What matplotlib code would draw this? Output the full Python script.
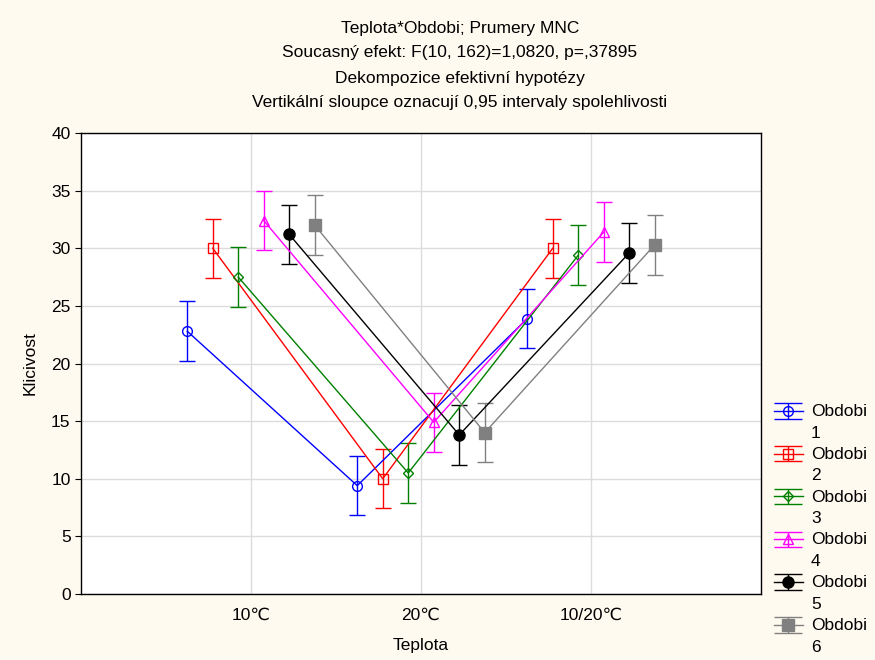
import matplotlib
matplotlib.use("Agg")
import matplotlib.pyplot as plt
import numpy as np
from matplotlib.legend_handler import HandlerErrorbar
from matplotlib.transforms import Affine2D
from matplotlib.lines import Line2D

plt.rcParams['font.family'] = ['Liberation Sans', 'DejaVu Sans']

categories = ["10\u2103", "20\u2103", "10/20\u2103"]
series_names = ["Obdobi\n1", "Obdobi\n2", "Obdobi\n3", "Obdobi\n4", "Obdobi\n5", "Obdobi\n6"]
obdobi1 = [22.8, 9.4, 23.9]
obdobi2 = [30.0, 10.0, 30.0]
obdobi3 = [27.5, 10.5, 29.4]
obdobi4 = [32.4, 14.9, 31.4]
obdobi5 = [31.2, 13.8, 29.6]
obdobi6 = [32.0, 14.0, 30.3]
ci_half = [2.58, 2.58, 2.58, 2.58, 2.58, 2.58]

values = [obdobi1, obdobi2, obdobi3, obdobi4, obdobi5, obdobi6]
colors = ["#0000ff", "#ff0000", "#008000", "#ff00ff", "#000000", "#808080"]
markers = ["o", "s", "D", "^", "o", "s"]
mfaces = ["none", "none", "none", "none", "#000000", "#808080"]
msizes = [7, 7, 5.5, 7, 8, 8]
offsets = [-0.375, -0.225, -0.075, 0.075, 0.225, 0.375]


class ShiftedErrorbar(HandlerErrorbar):
    def __init__(self, shift, **kw):
        super().__init__(**kw)
        self.shift = shift

    def create_artists(self, legend, orig_handle, xdescent, ydescent,
                       width, height, fontsize, trans):
        t = Affine2D().translate(0, self.shift) + trans
        arts = super().create_artists(legend, orig_handle, xdescent, ydescent,
                                      width, height, fontsize, t)
        for a in arts:
            if isinstance(a, Line2D) and a.get_marker() == "_":
                a.set_markersize(width)
        return arts


fig = plt.figure(figsize=(8.75, 6.6), dpi=100, facecolor="#fffaf0")
ax = fig.add_axes([81/875, 1-594/660, 680/875, 461/660])
ax.set_facecolor("white")

xpos = np.arange(1, len(categories) + 1)
for i, vals in enumerate(values):
    ax.errorbar(xpos + offsets[i], vals, yerr=ci_half[i], color=colors[i],
                marker=markers[i], markerfacecolor=mfaces[i], markeredgecolor=colors[i],
                markersize=msizes[i], linewidth=1.0, elinewidth=1.0, capsize=6,
                capthick=1.0, label=series_names[i], zorder=3)

ax.set_xlim(0, 4)
ax.set_ylim(0, 40)
ax.set_yticks(np.arange(0, 41, 5))
ax.set_xticks(xpos)
ax.set_xticklabels(categories)
ax.grid(True, color="#dcdcdc", linewidth=1.0, zorder=0)
ax.set_axisbelow(True)
ax.tick_params(axis="both", labelsize=12.5, direction="out", length=4, color="black")
ax.tick_params(axis="x", length=0, pad=10)
for s in ax.spines.values():
    s.set_color("black")
    s.set_linewidth(1.0)
ax.set_xlabel("Teplota", fontsize=12.5, labelpad=11)
ax.set_ylabel("Klicivost", fontsize=12.5, labelpad=10)

title_lines = ["Teplota*Obdobi; Prumery MNC",
               "Soucasný efekt: F(10, 162)=1,0820, p=,37895",
               "Dekompozice efektivní hypotézy",
               "Vertikální sloupce oznacují 0,95 intervaly spolehlivosti"]
for k, line in enumerate(title_lines):
    fig.text(460/875, 1 - (28 + 25*k)/660, line, ha="center", va="center", fontsize=12.5)

leg = fig.legend(loc="upper left", bbox_to_anchor=(767/875, 1 - 397/660), frameon=False,
                 fontsize=12.5, handlelength=1.67, labelspacing=0.36, handletextpad=0.46,
                 borderaxespad=0, borderpad=0.4,
                 handler_map={matplotlib.container.ErrorbarContainer:
                              ShiftedErrorbar(shift=8.2, xerr_size=0.5, yerr_size=0.45)})
for t in leg.get_texts():
    t.set_linespacing(1.55)

fig.savefig("out.png", dpi=100, facecolor=fig.get_facecolor())
